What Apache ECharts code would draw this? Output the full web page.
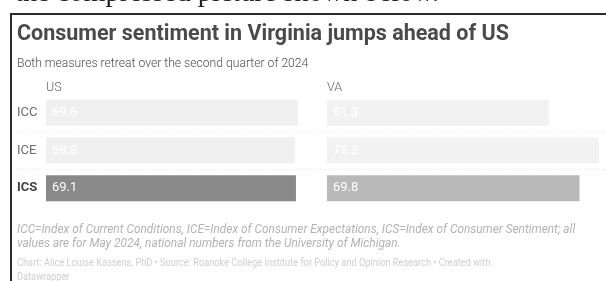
<!DOCTYPE html>
<html>
<head>
<meta charset="utf-8">
<script src="https://cdn.jsdelivr.net/npm/echarts@6/dist/echarts.min.js"></script>
<style>
  html, body { margin: 0; padding: 0; background: #fff; }
  #chart { width: 606px; height: 281px; }
</style>
</head>
<body>
<div id="chart"></div>
<script>
// data
const categories = ['ICC', 'ICE', 'ICS']
const usValues = [69.6, 68.8, 69.1]
const vaValues = [61.3, 75.2, 69.8]
const panelNames = ['US', 'VA']

const FONT = 'Roboto'
const axisMax = 75.2

// colours per row: the ICS row is highlighted
const usColors = ['#f0f0f0', '#f0f0f0', '#898989']
const vaColors = ['#f2f2f2', '#f2f2f2', '#b9b9b9']

const chart = echarts.init(document.getElementById('chart'), null, { renderer: 'canvas' })

const gridTop = 94
const gridHeight = 113

function catAxis (gridIndex, showLabels) {
  return {
    type: 'category',
    gridIndex,
    data: categories,
    inverse: true,
    axisLine: { show: false },
    axisTick: { show: false },
    axisLabel: {
      show: showLabels,
      align: 'left',
      margin: 29,
      fontFamily: FONT,
      fontSize: 13,
      color: '#6b6b6b',
      formatter: v => v === 'ICS' ? '{b|' + v + '}' : v,
      rich: { b: { fontFamily: FONT, fontSize: 13, fontWeight: 'bold', color: '#3f3f3f' } },
    },
  }
}

function valAxis (gridIndex) {
  return {
    type: 'value',
    gridIndex,
    min: 0,
    max: axisMax,
    show: false,
  }
}

function barSeries (idx, values, colors) {
  return {
    type: 'bar',
    xAxisIndex: idx,
    yAxisIndex: idx,
    barWidth: 26,
    silent: true,
    data: values.map((v, i) => ({ value: v, itemStyle: { color: colors[i] } })),
    label: {
      show: true,
      position: 'insideLeft',
      distance: 6,
      color: '#fff',
      fontFamily: FONT,
      fontSize: 13,
    },
  }
}

// text placed by its top-left corner, optionally squeezed horizontally
function label (text, x, y, font, fill, scaleX, lineHeight) {
  return {
    type: 'text',
    x, y,
    scaleX: scaleX || 1,
    silent: true,
    style: { text, font, fill, lineHeight, textVerticalAlign: 'top', textAlign: 'left' },
  }
}

chart.setOption({
  animation: false,
  backgroundColor: '#fff',
  grid: [
    { left: 46, width: 272, top: gridTop, height: gridHeight },
    { left: 327, width: 272, top: gridTop, height: gridHeight },
  ],
  yAxis: [catAxis(0, true), catAxis(1, false)],
  xAxis: [valAxis(0), valAxis(1)],
  series: [barSeries(0, usValues, usColors), barSeries(1, vaValues, vaColors)],
  graphic: [
    // cropped text of the page above the chart
    label('the compressed picture shown below.', 15, -20, '27px "Liberation Serif"', '#222', 1.05),
    // frame of the screenshot
    { type: 'rect', silent: true, shape: { x: 10, y: 13, width: 596, height: 2 }, style: { fill: '#2b2b2b' } },
    { type: 'rect', silent: true, shape: { x: 10, y: 13, width: 2, height: 268 }, style: { fill: '#2b2b2b' } },
    // titles
    label('Consumer sentiment in Virginia jumps ahead of US', 17, 24, 'bold 21.5px Roboto', '#4a4a4a'),
    label('Both measures retreat over the second quarter of 2024', 17, 57, '300 13.5px Roboto', '#4f4f4f', 0.9),
    label(panelNames[0], 46, 81, '300 12.5px Roboto', '#666'),
    label(panelNames[1], 327, 81, '300 12.5px Roboto', '#666'),
    // dotted row separators
    { type: 'line', silent: true, shape: { x1: 17, y1: 131.5, x2: 606, y2: 131.5 }, style: { stroke: '#e6e6e6', lineWidth: 1, lineDash: [1, 2] } },
    { type: 'line', silent: true, shape: { x1: 17, y1: 169.5, x2: 606, y2: 169.5 }, style: { stroke: '#e6e6e6', lineWidth: 1, lineDash: [1, 2] } },
    // notes
    label('ICC=Index of Current Conditions, ICE=Index of Consumer Expectations, ICS=Index of Consumer Sentiment; all\nvalues are for May 2024, national numbers from the University of Michigan.',
      17, 223, 'italic 12px Roboto', '#b3b3b3', 0.99, 14),
    label('Chart: Alice Louise Kassens, PhD \u2022 Source: Roanoke College Institute for Policy and Opinion Research \u2022 Created with\nDatawrapper',
      17, 257, '10.5px Roboto', '#cfcfcf', 0.88, 13.5),
  ],
})
</script>
</body>
</html>
